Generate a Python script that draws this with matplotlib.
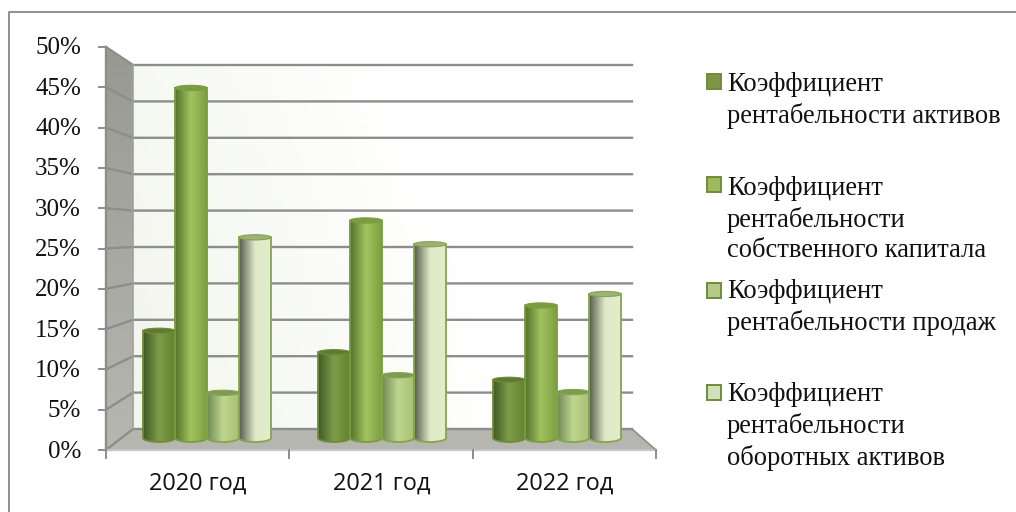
import matplotlib
matplotlib.use("Agg")
import matplotlib.pyplot as plt
import numpy as np
from matplotlib.colors import LinearSegmentedColormap
from matplotlib.patches import Ellipse, PathPatch, Polygon, Rectangle
from matplotlib.path import Path

YEARS = ["2020 год", "2021 год", "2022 год"]
ASSETS = [14.0, 11.2, 7.6]
EQUITY = [45.7, 28.4, 17.3]
SALES = [5.9, 8.2, 6.0]
CURRENT_ASSETS = [26.2, 25.3, 18.8]
TICKS = [0, 5, 10, 15, 20, 25, 30, 35, 40, 45, 50]
LEGEND = [
    "Коэффициент\nрентабельности активов",
    "Коэффициент\nрентабельности\nсобственного капитала",
    "Коэффициент\nрентабельности продаж",
    "Коэффициент\nрентабельности\nоборотных активов",
]

# left edge / centre / right edge of each cylinder
SHADES = [
    ("#425a26", "#7f9c4a", "#64822f"),
    ("#54752a", "#a2c35f", "#7c9f42"),
    ("#6f8a55", "#c0d68f", "#a6c274"),
    ("#565c50", "#dfe9c6", "#e2edcd"),
]
EDGES = ["#6f8c38", "#7b9c3f", "#86a54a", "#86a54a"]
TOPS = ["#5f7a32", "#7d9c42", "#7f9a58", "#9db07a"]
KEYS = ["#7f9444", "#9dbb5c", "#b2cb88", "#d2dfbd"]

# plot box in pixels: front edge, back wall and bar plane
FRONT_L, FRONT_R, FRONT_0, FRONT_50 = 106, 656, 450, 47
BACK_L, BACK_R, BACK_0, BACK_50 = 133, 632, 429, 65
BAR_0, BAR_50 = 438, 55
BAR_W = 32.0
GROUP_L = [143, 318, 493]


def front_y(v):
    return FRONT_0 + (FRONT_50 - FRONT_0) * v / 50


def back_y(v):
    return BACK_0 + (BACK_50 - BACK_0) * v / 50


def bar_y(v):
    return BAR_0 + (BAR_50 - BAR_0) * v / 50


def cylinder(ax, x, value, shades, edge, top):
    y = bar_y(value)
    r = BAR_W / 2
    h = 4.0
    cx = x + r
    k = 0.5523
    verts = [(x, y), (x, BAR_0),
             (x, BAR_0 + k * h), (cx - k * r, BAR_0 + h), (cx, BAR_0 + h),
             (cx + k * r, BAR_0 + h), (x + BAR_W, BAR_0 + k * h), (x + BAR_W, BAR_0),
             (x + BAR_W, y), (x, y)]
    codes = [Path.MOVETO, Path.LINETO, Path.CURVE4, Path.CURVE4, Path.CURVE4,
             Path.CURVE4, Path.CURVE4, Path.CURVE4, Path.LINETO, Path.CLOSEPOLY]
    body = PathPatch(Path(verts, codes), fc="none", ec=edge, lw=1.3, zorder=5)
    ax.add_patch(body)
    cmap = LinearSegmentedColormap.from_list("c", list(shades))
    im = ax.imshow(np.linspace(0, 1, 64).reshape(1, -1), cmap=cmap, aspect="auto",
                   extent=(x, x + BAR_W, BAR_0 + h, y), zorder=4)
    im.set_clip_path(body.get_path(), ax.transData)
    ax.add_patch(Ellipse((cx, y), BAR_W, 2 * h * 0.65, fc=top, ec=edge, lw=0.8, zorder=6))


fig = plt.figure(figsize=(10.16, 5.12), dpi=100)
ax = fig.add_axes([0, 0, 1, 1])
ax.axis("off")

# outer chart frame, cut off on the right and at the bottom
ax.plot([9, 9, 1016], [512, 12, 12], color="#8f8f8f", lw=1.4, zorder=1)

# back wall, side wall, floor
wall = LinearSegmentedColormap.from_list("w", ["#f2f5ec", "#ffffff"])
gx, gy = np.meshgrid(np.linspace(0, 1, 100), np.linspace(0, 1, 100))
ax.imshow(np.clip(gx * 1.3 + (1 - gy) * 0.35, 0, 1), cmap=wall, aspect="auto", zorder=1,
          extent=(BACK_L, BACK_R, BACK_0, back_y(50)))
side = Polygon([(FRONT_L, front_y(50)), (BACK_L, back_y(50)), (BACK_L, back_y(0)), (FRONT_L, front_y(0))],
               closed=True, fc="none", ec="none")
ax.add_patch(side)
im = ax.imshow(np.linspace(0, 1, 64).reshape(-1, 1), aspect="auto", zorder=1,
               cmap=LinearSegmentedColormap.from_list("s", ["#989a92", "#b6b8b0"]),
               extent=(FRONT_L, BACK_L, FRONT_0, FRONT_50), origin="upper")
im.set_clip_path(side)
ax.add_patch(Polygon([(FRONT_L, FRONT_0), (BACK_L, BACK_0), (BACK_R, BACK_0), (FRONT_R, FRONT_0)],
                     closed=True, fc="#b4b6af", ec="none", zorder=1))

# gridlines run along the side wall and across the back
for t in TICKS:
    ax.plot([FRONT_L, BACK_L, BACK_R], [front_y(t), back_y(t), back_y(t)],
            color="#8d8d8d", lw=1.7, zorder=2, solid_joinstyle="miter")
    ax.plot([FRONT_L - 7, FRONT_L], [front_y(t), front_y(t)], color="#8d8d8d", lw=1.4, zorder=2)
    ax.text(81, front_y(t) + 1.5, f"{t}%", ha="right", va="center", fontsize=18,
            family="Liberation Serif", color="#111111")
ax.plot([FRONT_L, FRONT_L], [front_y(50), front_y(0)], color="#8d8d8d", lw=1.7, zorder=3)
ax.plot([BACK_L, BACK_L], [back_y(50), back_y(0)], color="#a0a0a0", lw=1.2, zorder=2)
ax.plot([FRONT_L, FRONT_R], [FRONT_0, FRONT_0], color="#c4c4c4", lw=1.6, zorder=2)
ax.plot([BACK_R, FRONT_R], [BACK_0, FRONT_0], color="#8d8d8d", lw=1.2, zorder=2)
for i in range(4):
    px = FRONT_L + (FRONT_R - FRONT_L) * i / 3
    ax.plot([px, px], [FRONT_0, FRONT_0 + 8], color="#8d8d8d", lw=1.4, zorder=2)

series = [ASSETS, EQUITY, SALES, CURRENT_ASSETS]
for s, values in enumerate(series):
    for g, value in enumerate(values):
        cylinder(ax, GROUP_L[g] + s * BAR_W, value, SHADES[s], EDGES[s], TOPS[s])

for g, name in enumerate(YEARS):
    ax.text(FRONT_L + (FRONT_R - FRONT_L) * (g + 0.5) / 3 + 0.5, 484, name, ha="center", va="center",
            fontsize=16.9, family="Open Sans", color="#111111")

legend_tops = [74, 177, 283, 385]
legend_mids = [100.5, 219.5, 307.5, 426.5]
for label, color, top, mid in zip(LEGEND, KEYS, legend_tops, legend_mids):
    ax.add_patch(Rectangle((706.5, top), 14.5, 14.5, fc=color, ec="#6f8c38", lw=1.4, zorder=3))
    ax.text(727, mid, label, ha="left", va="center", fontsize=19.1, linespacing=1.28,
            family="Liberation Serif", color="#111111")

ax.set_xlim(0, 1016)
ax.set_ylim(512, 0)
fig.savefig("out.png", dpi=100)
